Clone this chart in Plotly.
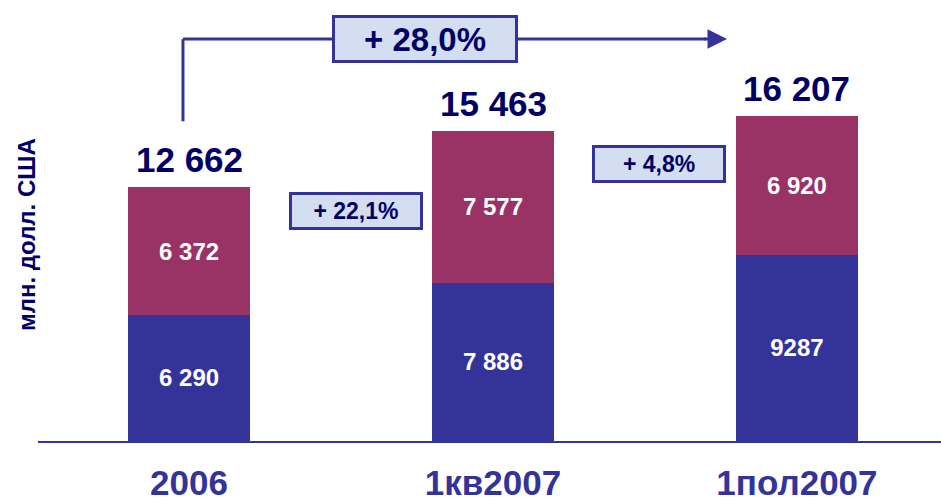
import plotly.graph_objects as go

categories = ["2006", "1кв2007", "1пол2007"]
blue_values = [6290, 7886, 9287]
red_values = [6372, 7577, 6920]
blue_labels = ["6 290", "7 886", "9287"]
red_labels = ["6 372", "7 577", "6 920"]
total_labels = ["12 662", "15 463", "16 207"]
growth_labels = ["+ 22,1%", "+ 4,8%"]
overall_growth = "+ 28,0%"
y_title = "млн. долл. США"

BLUE = "#333399"
RED = "#993366"
NAVY = "#000066"
BOXFILL = "#D3DEF0"
FONT = "Liberation Sans, Arial, sans-serif"

xs = list(range(len(categories)))
totals = [b + r for b, r in zip(blue_values, red_values)]

fig = go.Figure()
fig.add_trace(go.Bar(
    x=xs, y=blue_values, marker=dict(color=BLUE, line=dict(width=0)),
    width=0.4, text=["<b>%s</b>" % t for t in blue_labels], textposition="inside",
    insidetextanchor="middle",
    textfont=dict(color="white", size=24, family=FONT),
    hoverinfo="skip",
))
fig.add_trace(go.Bar(
    x=xs, y=red_values, marker=dict(color=RED, line=dict(width=0)),
    width=0.4, text=["<b>%s</b>" % t for t in red_labels], textposition="inside",
    insidetextanchor="middle",
    textfont=dict(color="white", size=24, family=FONT),
    hoverinfo="skip",
))

annotations = []
for x, t, lbl in zip(xs, totals, total_labels):
    annotations.append(dict(
        x=x, y=t, xref="x", yref="y", text="<b>%s</b>" % lbl,
        showarrow=False, yanchor="bottom", yshift=6,
        font=dict(size=35, color=NAVY, family=FONT),
    ))

# growth boxes between consecutive bars
growth_pos = [(0.55, 11470), (1.545, 13800)]
for (gx, gy), lbl in zip(growth_pos, growth_labels):
    annotations.append(dict(
        x=gx, y=gy, xref="x", yref="y", text="<b>%s</b>" % lbl,
        showarrow=False, xanchor="center", yanchor="middle",
        font=dict(size=23, color=NAVY, family=FONT),
        bgcolor=BOXFILL, bordercolor=BLUE, borderwidth=3,
        width=126, height=30, borderpad=1,
    ))

# overall arrow
arrow_y = 20050
shapes = [
    dict(type="line", xref="x", yref="y", x0=-0.02, x1=-0.02, y0=15950, y1=arrow_y,
         line=dict(color=BLUE, width=3)),
    dict(type="line", xref="x", yref="y", x0=-0.02, x1=1.70, y0=arrow_y, y1=arrow_y,
         line=dict(color=BLUE, width=3)),
]
annotations.append(dict(
    x=1.77, y=arrow_y, xref="x", yref="y", ax=1.69, ay=arrow_y,
    axref="x", ayref="y", text="", showarrow=True,
    arrowhead=2, arrowsize=1.3, arrowwidth=3, arrowcolor=BLUE,
))
annotations.append(dict(
    x=0.776, y=arrow_y, xref="x", yref="y", text="<b>%s</b>" % overall_growth,
    showarrow=False, xanchor="center", yanchor="middle",
    font=dict(size=33, color=NAVY, family=FONT),
    bgcolor=BOXFILL, bordercolor=BLUE, borderwidth=3,
    width=178, height=40, borderpad=1,
))

annotations.append(dict(
    x=0, y=1 - 235 / 441, xref="paper", yref="paper", text="<b>%s</b>" % y_title,
    showarrow=False, textangle=-90, xanchor="center", yanchor="middle",
    xshift=-11,
    font=dict(size=24, color=NAVY, family=FONT),
))

fig.update_layout(
    barmode="stack",
    width=941, height=501,
    margin=dict(l=38, r=0, t=0, b=60),
    paper_bgcolor="white", plot_bgcolor="white",
    showlegend=False,
    shapes=shapes,
    annotations=annotations,
    font=dict(family=FONT),
    xaxis=dict(
        range=[-0.497, 2.474], tickmode="array", tickvals=xs,
        ticktext=["<b>%s</b>" % c for c in categories],
        tickfont=dict(size=35, color=BLUE, family=FONT),
        showline=True, linecolor=BLUE, linewidth=2,
        showgrid=False, zeroline=False, ticks="",
        ticklabelstandoff=10,
    ),
    yaxis=dict(range=[0, 22000], visible=False, showgrid=False, zeroline=False),
)

fig.write_html(
    "out.html",
    config={"displayModeBar": False},
    post_script="document.body.style.margin='0';document.body.style.overflow='hidden';",
)
